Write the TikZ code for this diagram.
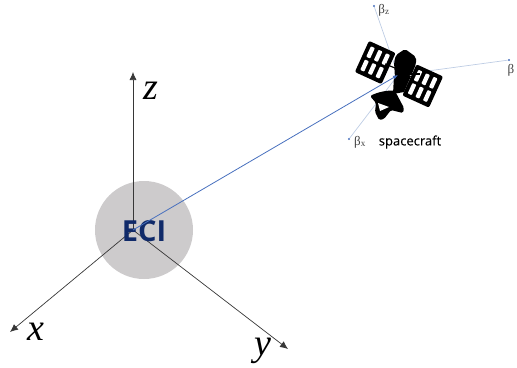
\documentclass[tikz,border=0pt]{standalone}
\usepackage{fontspec}
\newfontfamily\axisfont{Liberation Serif}
\newfontfamily\ecifont{Open Sans}
\newfontfamily\scfont[FakeBold=0.25]{Open Sans}
\usetikzlibrary{arrows.meta}
\definecolor{eciblue}{RGB}{16,42,105}
\definecolor{ballgrey}{RGB}{205,203,204}
\definecolor{linkblue}{RGB}{72,112,190}
\definecolor{axispale}{RGB}{190,205,228}
\definecolor{axisgrey}{RGB}{55,55,55}
\tikzset{
  axisline/.style={draw=axisgrey,line width=0.7pt,-{Latex[length=8pt,width=7pt]}},
  bodyaxis/.style={draw=axispale,line width=0.7pt},
  axislabel/.style={font=\axisfont\itshape\fontsize{38}{38}\selectfont,inner sep=0pt},
  betalabel/.style={font=\axisfont\fontsize{13}{13}\selectfont,text=black!75,inner sep=0pt},
  tipdot/.style={circle,fill=linkblue,inner sep=0pt,minimum size=2.4pt},
  panel/.style={fill=black,draw=black,line width=4pt,line join=round},
  slot/.style={fill=white,rounded corners=0.8pt}
}
\begin{document}
\begin{tikzpicture}[x=1pt,y=-1pt]
\useasboundingbox (0,0) rectangle (517,367);
% Earth
\node[circle,fill=ballgrey,minimum size=98pt,inner sep=0pt] (ball) at (144,230) {};
\coordinate (o) at (133,230);
\coordinate (xt) at (10,332);
\coordinate (yt) at (288,349);
\coordinate (zt) at (133,72);
\draw[axisline] (o) -- (xt);
\draw[axisline] (o) -- (yt);
\draw[axisline] (o) -- (zt);
\node[font=\ecifont\bfseries\fontsize{29}{29}\selectfont,text=eciblue,inner sep=0pt] (eci) at (144,231) {ECI};
\node[axislabel] (xl) at (36,332) {x};
\node[axislabel] (yl) at (263,351) {y};
\node[axislabel] (zl) at (151,91) {z};
% body axes
\coordinate (sc) at (398,75);
\node[tipdot] (bz) at (374,6) {};
\node[tipdot] (bx) at (349,139) {};
\node[tipdot] (by) at (509,60) {};
\draw[bodyaxis] (sc) -- (bz);
\draw[bodyaxis] (sc) -- (bx);
\draw[bodyaxis] (sc) -- (by);
\node[betalabel] (bzl) at (384,10) {β\textsubscript{z}};
\node[betalabel] (bxl) at (360,142) {β\textsubscript{x}};
\node[betalabel] (byl) at (511,70) {β};
% solar panels
\foreach \ox/\oy in {370/43.5,417.5/67}{
  \path[panel] (\ox,\oy) -- ++(23,10.5) -- ++(-12.5,27.5) -- ++(-23,-10.5) -- cycle;
  \foreach \r in {0,1}{
    \foreach \c in {0,1,2}{
      \fill[slot,shift={(\ox,\oy)}]
        ({23*(0.08+0.33*\c)-12.5*(0.07+0.48*\r)},{10.5*(0.08+0.33*\c)+27.5*(0.07+0.48*\r)})
        -- ++({23*0.17},{10.5*0.17}) -- ++({-12.5*0.38},{27.5*0.38}) -- ++({-23*0.17},{-10.5*0.17}) -- cycle;
    }
  }
}
% spacecraft body
\fill[black,rounded corners=2pt] (396,55) -- (405,49) -- (416,57) -- (416,64) -- (411,76) -- (395,78) -- (394,62) -- cycle;
\fill[black] (394,76) -- (411,76) -- (404,92) -- (393,94) -- cycle;
\draw[black,line width=1.2pt] (395,68) -- (385,64);
\draw[black,line width=1.2pt] (408,74) -- (420,74);
% dish
\fill[black,rounded corners=1.5pt] (370,96) .. controls (378,92) and (388,90) .. (395,91) -- (404,108) -- (403,113) -- (391,110) -- (384,119) -- (379,120) -- (375,112) -- (376,103) -- cycle;
\fill[white] (378,103) -- (389,107) -- (380,111) -- cycle;
% link
\draw[draw=linkblue,line width=0.8pt,-{Latex[length=5pt,width=4pt]}] (o) -- (sc);
\node[font=\scfont\fontsize{13}{13}\selectfont,inner sep=0pt] (sclabel) at (410,142) {spacecraft};
\end{tikzpicture}
\end{document}
